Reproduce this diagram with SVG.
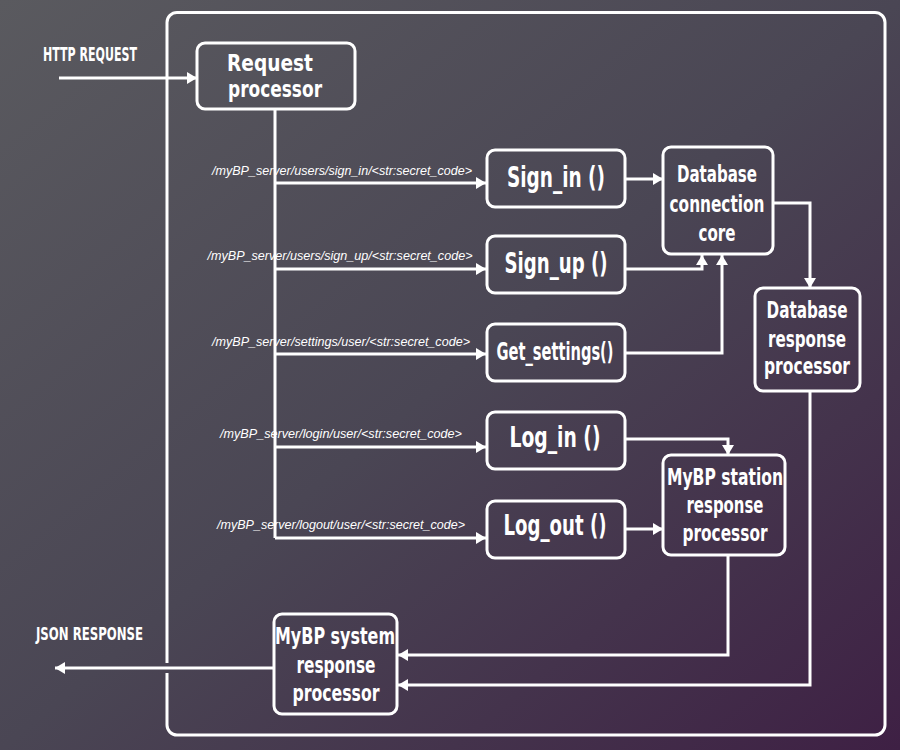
<svg xmlns="http://www.w3.org/2000/svg" width="900" height="750" viewBox="0 0 900 750">
<defs>
<linearGradient id="bg" x1="0" y1="0" x2="1" y2="1">
<stop offset="0" stop-color="#5a5a5f"/>
<stop offset="0.5" stop-color="#4a4654"/>
<stop offset="1" stop-color="#3e2044"/>
</linearGradient>
<marker id="ah" markerUnits="userSpaceOnUse" markerWidth="10" markerHeight="12" viewBox="0 0 10 12" refX="10" refY="6" orient="auto">
<path d="M0,0 L10,6 L0,12 z" fill="#ffffff"/>
</marker>
<style>
.box{fill:none;stroke:#ffffff;stroke-width:3}
.con{fill:none;stroke:#ffffff;stroke-width:3}
.arr{marker-end:url(#ah)}
.t{font-family:"Liberation Sans Narrow","DejaVu Sans Condensed","DejaVu Sans",sans-serif;font-weight:bold;fill:#ffffff;text-anchor:middle}
.lbl{font-family:"Liberation Sans Narrow","DejaVu Sans Condensed","DejaVu Sans",sans-serif;font-weight:bold;fill:#ffffff}
.path{font-family:"Liberation Sans",Arial,sans-serif;font-style:italic;font-size:12px;fill:#ffffff;text-anchor:middle}
</style>
</defs>
<rect x="0" y="0" width="900" height="750" fill="url(#bg)"/>

<g id="container">
<path class="con" d="M167,673 V725 A10,10 0 0 0 177,735 H875 A10,10 0 0 0 885,725 V22.5 A10,10 0 0 0 875,12.5 H177 A10,10 0 0 0 167,22.5 V663"/>
</g>

<g id="connectors">
<path class="con arr" d="M59,78 H197"/>
<path class="con" d="M275,109 V538"/>
<path class="con arr" d="M275,183 H486"/>
<path class="con arr" d="M275,269 H486"/>
<path class="con arr" d="M275,354 H486"/>
<path class="con arr" d="M275,447 H486"/>
<path class="con arr" d="M275,538 H486"/>
<path class="con arr" d="M625,179 H663"/>
<path class="con arr" d="M625,269 H702 V255"/>
<path class="con arr" d="M625,353 H722 V255"/>
<path class="con arr" d="M773,203 H810 V288"/>
<path class="con arr" d="M625,439 H728 V455"/>
<path class="con arr" d="M625,529 H663"/>
<path class="con arr" d="M728,555 V655 H398"/>
<path class="con arr" d="M810,391 V685 H398"/>
<path class="con arr" d="M274,668 H55"/>
</g>

<g id="labels">
<text class="lbl" x="43" y="61" font-size="20" textLength="94" lengthAdjust="spacingAndGlyphs">HTTP REQUEST</text>
<text class="lbl" x="36" y="640" font-size="18" textLength="107" lengthAdjust="spacingAndGlyphs">JSON RESPONSE</text>
<text class="path" x="342" y="175" textLength="260" lengthAdjust="spacingAndGlyphs">/myBP_server/users/sign_in/&lt;str:secret_code&gt;</text>
<text class="path" x="340" y="260" textLength="265" lengthAdjust="spacingAndGlyphs">/myBP_server/users/sign_up/&lt;str:secret_code&gt;</text>
<text class="path" x="341" y="346" textLength="258" lengthAdjust="spacingAndGlyphs">/myBP_server/settings/user/&lt;str:secret_code&gt;</text>
<text class="path" x="341" y="438" textLength="242" lengthAdjust="spacingAndGlyphs">/myBP_server/login/user/&lt;str:secret_code&gt;</text>
<text class="path" x="341" y="529" textLength="248" lengthAdjust="spacingAndGlyphs">/myBP_server/logout/user/&lt;str:secret_code&gt;</text>
</g>

<g id="request-processor">
<rect class="box" x="197" y="43" width="158" height="66" rx="8"/>
<text class="t" x="270" y="71" font-size="23" textLength="86" lengthAdjust="spacingAndGlyphs">Request</text>
<text class="t" x="275" y="97" font-size="23" textLength="94" lengthAdjust="spacingAndGlyphs">processor</text>
</g>

<g id="sign-in">
<rect class="box" x="487" y="150" width="138" height="57" rx="8"/>
<text class="t" x="556" y="187" font-size="29" textLength="98" lengthAdjust="spacingAndGlyphs">Sign_in ()</text>
</g>

<g id="sign-up">
<rect class="box" x="487" y="236" width="138" height="57" rx="8"/>
<text class="t" x="556" y="273" font-size="29" textLength="103" lengthAdjust="spacingAndGlyphs">Sign_up ()</text>
</g>

<g id="get-settings">
<rect class="box" x="487" y="324" width="138" height="57" rx="8"/>
<text class="t" x="555" y="360" font-size="25" textLength="117" lengthAdjust="spacingAndGlyphs">Get_settings()</text>
</g>

<g id="log-in">
<rect class="box" x="487" y="412" width="138" height="57" rx="8"/>
<text class="t" x="555" y="447" font-size="29" textLength="91" lengthAdjust="spacingAndGlyphs">Log_in ()</text>
</g>

<g id="log-out">
<rect class="box" x="487" y="501" width="138" height="57" rx="8"/>
<text class="t" x="555" y="535" font-size="29" textLength="103" lengthAdjust="spacingAndGlyphs">Log_out ()</text>
</g>

<g id="db-connection-core">
<rect class="box" x="663" y="147" width="110" height="107" rx="8"/>
<text class="t" x="717" y="182" font-size="23" textLength="80" lengthAdjust="spacingAndGlyphs">Database</text>
<text class="t" x="717" y="212" font-size="23" textLength="95" lengthAdjust="spacingAndGlyphs">connection</text>
<text class="t" x="717" y="241" font-size="23" textLength="37" lengthAdjust="spacingAndGlyphs">core</text>
</g>

<g id="db-response-processor">
<rect class="box" x="755" y="288" width="105" height="103" rx="8"/>
<text class="t" x="807" y="318" font-size="23" textLength="81" lengthAdjust="spacingAndGlyphs">Database</text>
<text class="t" x="807" y="347" font-size="23" textLength="78" lengthAdjust="spacingAndGlyphs">response</text>
<text class="t" x="807" y="374" font-size="23" textLength="86" lengthAdjust="spacingAndGlyphs">processor</text>
</g>

<g id="station-response-processor">
<rect class="box" x="663" y="455" width="122" height="100" rx="8"/>
<text class="t" x="725" y="485" font-size="23" textLength="116" lengthAdjust="spacingAndGlyphs">MyBP station</text>
<text class="t" x="725" y="513" font-size="23" textLength="77" lengthAdjust="spacingAndGlyphs">response</text>
<text class="t" x="725" y="541" font-size="23" textLength="85" lengthAdjust="spacingAndGlyphs">processor</text>
</g>

<g id="system-response-processor">
<rect class="box" x="274" y="614" width="123" height="100" rx="8"/>
<text class="t" x="335" y="644" font-size="23" textLength="120" lengthAdjust="spacingAndGlyphs">MyBP system</text>
<text class="t" x="336" y="673" font-size="23" textLength="79" lengthAdjust="spacingAndGlyphs">response</text>
<text class="t" x="336" y="701" font-size="23" textLength="87" lengthAdjust="spacingAndGlyphs">processor</text>
</g>
</svg>
